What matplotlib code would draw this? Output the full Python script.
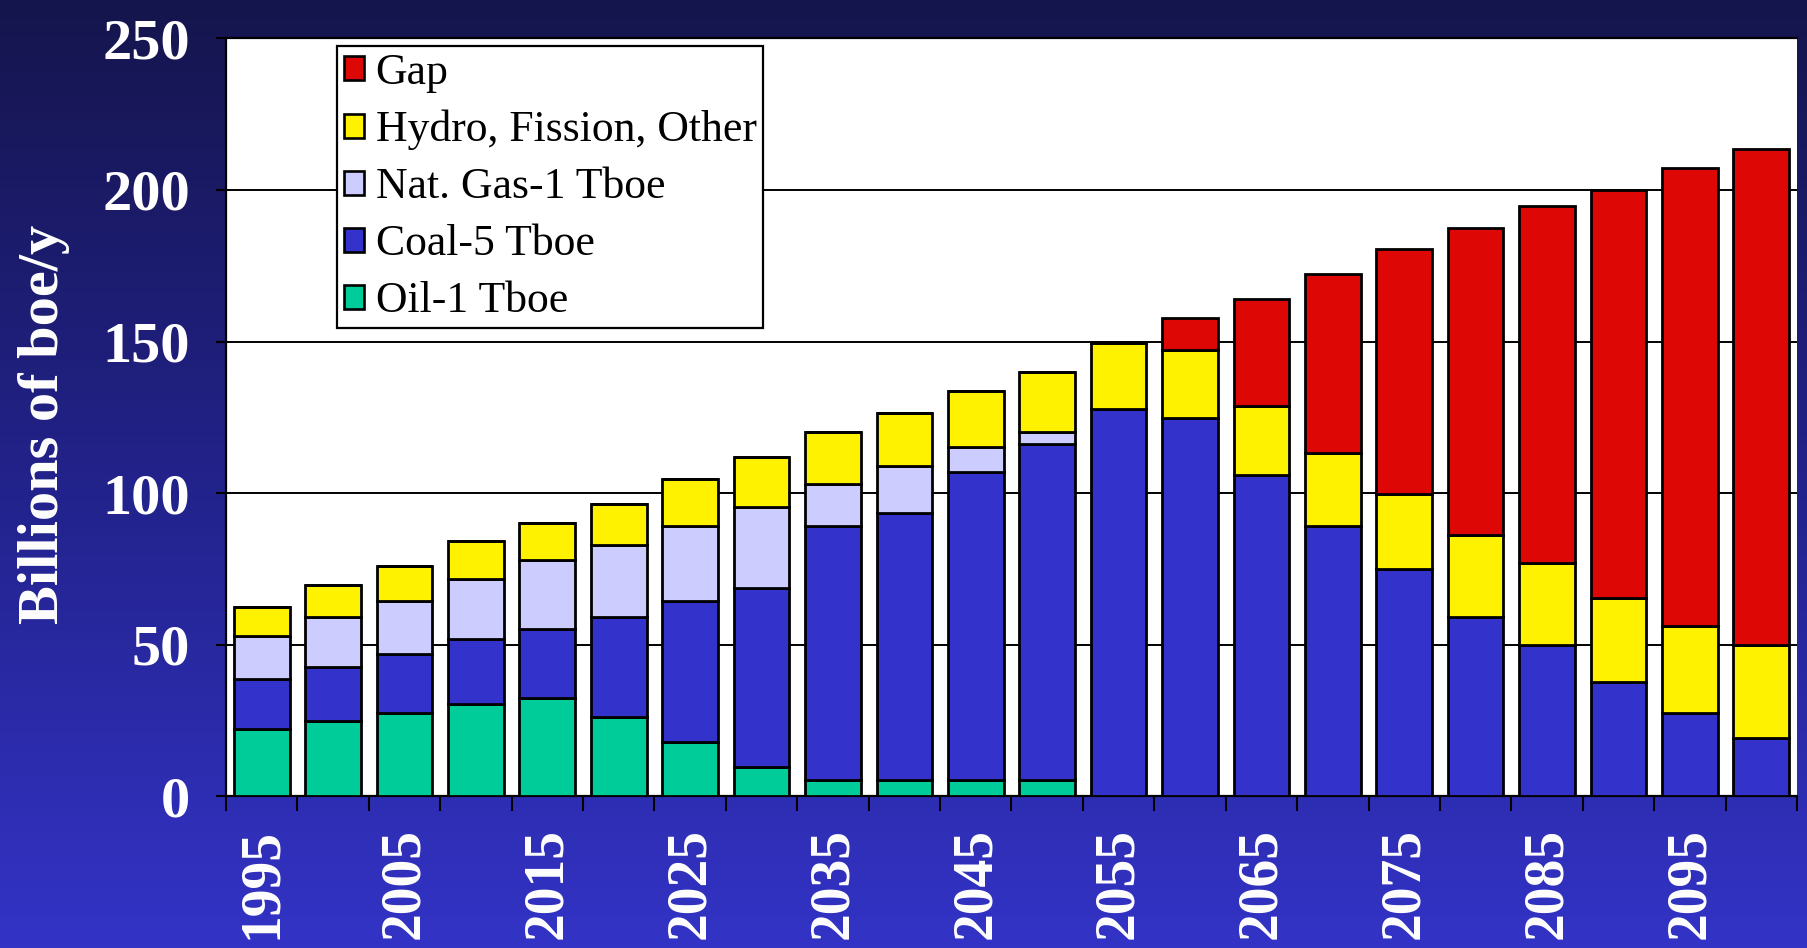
import matplotlib

matplotlib.use("Agg")
import matplotlib.pyplot as plt
import numpy as np
from matplotlib.colors import LinearSegmentedColormap
from matplotlib.patches import Patch

# Energy supply by source, billions of boe per year
years = list(range(1995, 2105, 5))
oil = [22.0, 24.9, 27.3, 30.3, 32.2, 26.2, 17.7, 9.5, 5.3, 5.3, 5.3, 5.3,
       0, 0, 0, 0, 0, 0, 0, 0, 0, 0]
coal = [16.6, 17.8, 19.5, 21.6, 22.9, 33.0, 46.8, 59.0, 83.8, 88.0, 101.5, 110.9,
        127.7, 124.7, 105.9, 89.2, 74.9, 59.2, 50.0, 37.7, 27.5, 19.2]
gas = [14.3, 16.5, 17.7, 19.7, 22.8, 23.7, 24.7, 27.0, 13.8, 15.7, 8.5, 4.0,
       0, 0, 0, 0, 0, 0, 0, 0, 0, 0]
hydro = [9.6, 10.4, 11.4, 12.6, 12.3, 13.6, 15.4, 16.5, 17.3, 17.5, 18.5, 19.8,
         21.7, 22.5, 22.8, 23.9, 24.8, 26.9, 26.8, 27.7, 28.6, 30.6]
gap = [0, 0, 0, 0, 0, 0, 0, 0, 0, 0, 0, 0,
       0.5, 10.5, 35.2, 59.1, 80.8, 101.5, 117.9, 134.6, 151.3, 163.7]

series = [
    ("Oil-1 Tboe", oil, "#00cc99"),
    ("Coal-5 Tboe", coal, "#3333cc"),
    ("Nat. Gas-1 Tboe", gas, "#ccccff"),
    ("Hydro, Fission, Other", hydro, "#fff200"),
    ("Gap", gap, "#dd0806"),
]

y_ticks = [0, 50, 100, 150, 200, 250]
label_years = years[::2]

SERIF = "Liberation Serif"

fig = plt.figure(figsize=(18.08, 9.48), dpi=100)

# vertical navy-to-blue background
bg = fig.add_axes([0, 0, 1, 1], zorder=-10)
cmap = LinearSegmentedColormap.from_list("bg", ["#15154d", "#22228a", "#3333c6"])
bg.imshow(np.linspace(0, 1, 256).reshape(-1, 1), aspect="auto", cmap=cmap,
          extent=[0, 1, 0, 1])
bg.set_axis_off()

ax = fig.add_axes([0.125, 0.1603, 0.8689, 0.7991])
ax.set_facecolor("white")

x = np.arange(len(years))
bottom = np.zeros(len(years))
for name, vals, color in series:
    vals = np.array(vals, dtype=float)
    ax.bar(x, vals, width=0.78, bottom=bottom, color=color,
           edgecolor="black", linewidth=2.0, zorder=3)
    bottom += vals

ax.set_xlim(-0.5, len(years) - 0.5)
ax.set_ylim(0, 250)

ax.set_yticks(y_ticks)
ax.set_yticklabels([str(v) for v in y_ticks], fontfamily=SERIF,
                   fontweight="bold", fontsize=42, color="white")
ax.tick_params(axis="y", direction="out", length=7.5, width=1.5,
               color="black", pad=18.5)
ax.yaxis.grid(True, color="black", linewidth=1.4)
ax.set_axisbelow(True)

# tick marks between bars, year labels under every other bar
ax.set_xticks(np.arange(-0.5, len(years)), labels=[])
ax.tick_params(axis="x", which="major", direction="out", length=11,
               width=1.5, color="black")
ax.set_xticks([years.index(y) for y in label_years], minor=True)
ax.set_xticklabels([str(y) for y in label_years], minor=True, rotation=90,
                   fontfamily=SERIF, fontweight="bold", fontsize=40,
                   color="white")
ax.tick_params(axis="x", which="minor", length=0, pad=23)

for side in ("left", "bottom", "top"):
    ax.spines[side].set_color("black")
    ax.spines[side].set_linewidth(1.6)
ax.spines["right"].set_visible(False)

ax.set_ylabel("Billions of boe/y", fontfamily=SERIF, fontweight="bold",
              fontsize=42, color="white")
ax.yaxis.set_label_coords(-0.0995, 0.49)

handles = [Patch(facecolor=c, edgecolor="black", linewidth=1.9, label=n)
           for n, _, c in reversed(series)]
leg = ax.legend(handles=handles, loc="upper left",
                bbox_to_anchor=(0.0707, 0.990), borderaxespad=0,
                prop={"family": SERIF, "size": 31.5}, frameon=True,
                fancybox=False, framealpha=1, edgecolor="black",
                handlelength=0.46, handleheight=0.46, handletextpad=0.27,
                labelspacing=0.39, borderpad=0.15)
leg.get_frame().set_linewidth(1.6)
leg.set_zorder(5)

fig.savefig("out.png", dpi=100)
